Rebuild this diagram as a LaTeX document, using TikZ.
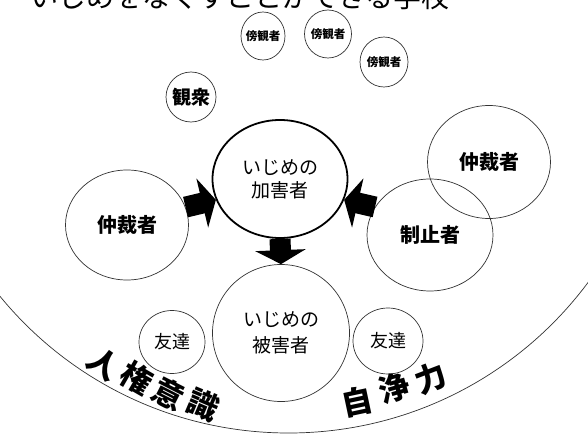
\documentclass[tikz,border=0pt]{standalone}
\usepackage{fontspec}
\setmainfont{Noto Sans CJK JP}
\usetikzlibrary{shapes.geometric,arrows.meta}
\begin{document}
\begin{tikzpicture}[x=1pt,y=-1pt,
  circ/.style={ellipse, draw=black!80, line width=0.7pt, inner sep=0pt, align=center},
  smallcirc/.style={circ, inner xsep=-4pt},
  mainline/.style={draw=black, line width=1.8pt},
  bigarrow/.style={line width=21pt, draw=black, -{Triangle[length=14pt,width=50pt]}},
  lab/.style={font=\fontsize{20}{24}\selectfont\bfseries},
  twoline/.style={font=\fontsize{19}{23}\selectfont},
  frfont/.style={font=\fontsize{18}{22}\selectfont},
  byfont/.style={font=\fontsize{11.5}{12}\selectfont\bfseries},
  arcchar/.style={font=\fontsize{31}{31}\selectfont\bfseries, inner sep=0pt}
]
\useasboundingbox[fill=white] (0,0) rectangle (588,433);
\begin{scope}
  \clip (0,0) rectangle (588,433);
  \node[anchor=base west, inner sep=0pt, font=\fontsize{28}{28}\selectfont] (title) at (30,8) {いじめをなくすことができる学校};
  \draw[black!80, line width=0.7pt] (288.6,60) circle[radius=373pt];
\end{scope}

% bystanders and audience
\node[smallcirc, byfont, minimum width=44pt, minimum height=48pt] (by1) at (263,36) {傍観者};
\node[smallcirc, byfont, minimum width=47pt, minimum height=48pt] (by2) at (328,34) {傍観者};
\node[smallcirc, byfont, minimum width=48pt, minimum height=50pt] (by3) at (384,62) {傍観者};
\node[smallcirc, font=\fontsize{19}{22}\selectfont\bfseries, minimum width=50pt, minimum height=50pt] (aud) at (191,97) {観衆};

% main circles
\node[circ, mainline, twoline, minimum width=135pt, minimum height=118pt] (perp) at (280,179) {いじめの\\加害者};
\node[circ, font=\fontsize{19}{26}\selectfont, minimum width=137pt, minimum height=137pt] (vict) at (281,333) {いじめの\\被害者};
\node[circ, lab, minimum width=123pt, minimum height=110pt] (med1) at (127,225) {仲裁者};
\node[circ, lab, minimum width=123pt, minimum height=113pt] (med2) at (489,162) {仲裁者};
\node[circ, lab, minimum width=126pt, minimum height=112pt] (stop) at (430,235) {制止者};
\node[circ, frfont, minimum width=66pt, minimum height=63pt] (fr1) at (172,342) {友達};
\node[circ, frfont, minimum width=70pt, minimum height=66pt] (fr2) at (388,341) {友達};

% arrows
\draw[bigarrow] (med1.17) -- (perp.198);
\draw[bigarrow] (stop.153) -- (perp.-18);
\draw[bigarrow] (perp.south) -- (vict.north);

% text along the arc
\node[arcchar, rotate=-35] (c1) at (104,364) {人};
\node[arcchar, rotate=-30] (c2) at (137,378) {権};
\node[arcchar, rotate=-27] (c3) at (169,394) {意};
\node[arcchar, rotate=-23] (c4) at (203,405) {識};
\node[arcchar, rotate=12] (d1) at (357,402) {自};
\node[arcchar, rotate=16] (d2) at (394,388) {浄};
\node[arcchar, rotate=21] (d3) at (431,378) {力};
\end{tikzpicture}
\end{document}
